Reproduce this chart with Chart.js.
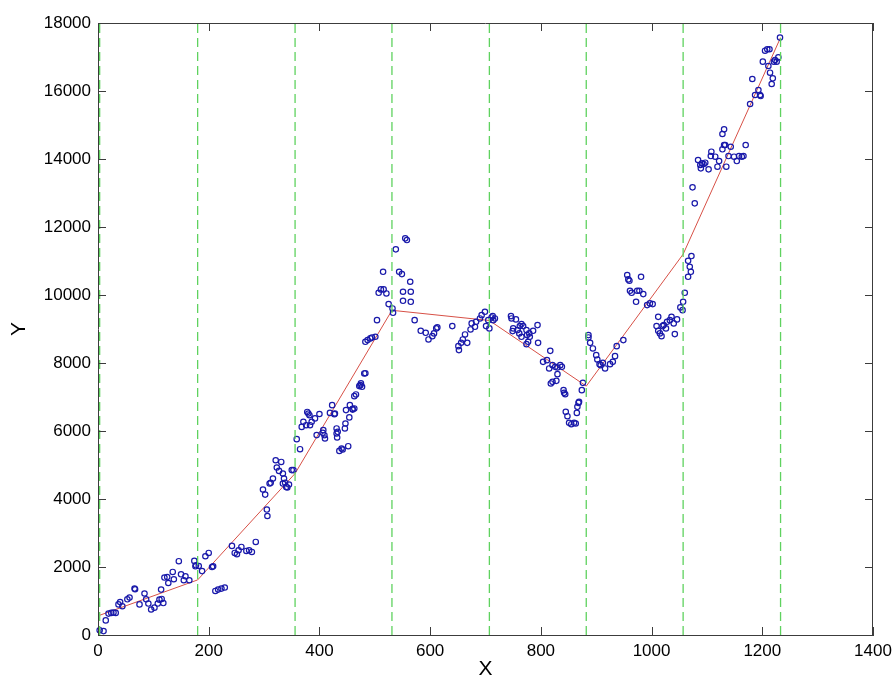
<!DOCTYPE html>
<html>
<head>
  <meta charset="UTF-8" />
  <title>Piecewise fit</title>
  <script src="https://cdn.jsdelivr.net/npm/chart.js"></script>
  <style>
    html, body { margin: 0; padding: 0; background: #fff; }
    #wrap { width: 895px; height: 680px; }
  </style>
</head>
<body>
  <div id="wrap"><canvas id="fitChart"></canvas></div>

  <script>
    // measured samples (x, y)
    const sampleX = [
      3, 10, 14, 19, 24, 28, 32, 37, 40, 44, 53, 57, 66, 67, 75, 84, 87, 91, 96, 102,
      108, 111, 115, 118, 114, 120, 125, 127, 135, 137, 146, 150, 155, 158, 165, 174, 176, 177, 182, 188,
      194, 200, 206, 208, 212, 217, 223, 229, 242, 247, 251, 254, 259, 268, 273, 278, 285, 298, 302, 305,
      306, 310, 312, 316, 321, 323, 327, 331, 334, 336, 334, 338, 340, 342, 345, 350, 353, 359, 365, 368,
      371, 376, 378, 380, 382, 383, 386, 392, 395, 400, 406, 407, 409, 410, 419, 423, 427, 428, 431, 431,
      432, 433, 436, 440, 442, 452, 446, 447, 448, 454, 455, 460, 463, 460, 463, 466, 472, 474, 475, 477,
      481, 483, 483, 487, 492, 495, 501, 504, 507, 511, 516, 521, 515, 525, 532, 533, 538, 555, 558, 544,
      549, 564, 551, 565, 551, 565, 572, 583, 592, 597, 604, 607, 611, 613, 640, 651, 652, 656, 659, 663,
      667, 673, 675, 681, 683, 690, 693, 699, 701, 707, 705, 711, 714, 717, 713, 746, 747, 755, 750, 758,
      749, 762, 765, 768, 761, 765, 774, 775, 779, 780, 774, 777, 786, 794, 795, 804, 811, 817, 815, 821,
      826, 830, 835, 838, 830, 828, 821, 818, 841, 844, 842, 845, 848, 851, 855, 860, 863, 865, 866, 868,
      869, 874, 876, 886, 886, 889, 894, 900, 902, 906, 908, 912, 916, 925, 930, 934, 937, 949, 956, 958,
      960, 981, 961, 964, 974, 978, 985, 972, 992, 997, 1002, 1012, 1009, 1012, 1015, 1018, 1020, 1022, 1026, 1028,
      1033, 1036, 1042, 1040, 1046, 1052, 1056, 1057, 1060, 1066, 1066, 1069, 1071, 1072, 1074, 1078, 1084, 1088, 1089, 1091,
      1094, 1097, 1103, 1108, 1107, 1115, 1119, 1122, 1128, 1131, 1133, 1135, 1139, 1143, 1128, 1131, 1149, 1154, 1158, 1163,
      1166, 1170, 1178, 1182, 1187, 1193, 1197, 1196, 1201, 1205, 1209, 1213, 1211, 1214, 1217, 1219, 1221, 1223, 1226, 1229,
      1232
    ];
    const sampleY = [
      140, 115, 430, 630, 650, 660, 650, 900, 970, 845, 1050, 1100, 1365, 1345, 900, 1220, 1050, 925, 750, 805,
      925, 1040, 1060, 940, 1335, 1690, 1705, 1530, 1855, 1640, 2170, 1786, 1610, 1727, 1610, 2180, 2020, 2050, 2030, 1880,
      2316, 2413, 2000, 2020, 1295, 1336, 1365, 1395, 2620, 2413, 2375, 2493, 2590, 2472, 2493, 2443, 2737, 4280, 4130, 3690,
      3500, 4455, 4475, 4600, 5140, 4925, 4826, 5090, 4750, 4600, 4455, 4475, 4355, 4340, 4425, 4850, 4850, 5760, 5465, 6120,
      6270, 6170, 6560, 6515, 6465, 6170, 6270, 6370, 5880, 6500, 5945, 6025, 5877, 5780, 6533, 6760, 6495, 6515, 6075, 5927,
      5810, 5975, 5415, 5485, 5456, 5553, 6075, 6220, 6615, 6400, 6760, 6630, 6663, 6650, 7025, 7075, 7320, 7348, 7400, 7300,
      7693, 7700, 8623, 8673, 8723, 8752, 8770, 9261, 10065, 10164, 10164, 10046, 10683, 9733, 9605, 9476, 11342, 11666, 11616, 10683,
      10615, 10389, 10095, 10095, 9830, 9800, 9261, 8947, 8888, 8693, 8790, 8870, 9017, 9047, 9085, 8496, 8379, 8593, 8693, 8840,
      8593, 8987, 9165, 9065, 9212, 9311, 9408, 9506, 9085, 9017, 9261, 9340, 9261, 9311, 9379, 9379, 9311, 9282, 9017, 8967,
      8938, 9085, 9144, 9085, 8870, 8770, 8967, 8820, 8870, 8770, 8555, 8623, 8947, 9115, 8593, 8034, 8084, 8358, 7840, 7937,
      7887, 7868, 7937, 7887, 7672, 7475, 7446, 7398, 7201, 7083, 7122, 6563, 6436, 6240, 6200, 6240, 6220, 6533, 6710, 6827,
      6857, 7201, 7416, 8820, 8752, 8593, 8428, 8231, 8105, 7966, 7937, 8005, 7840, 7966, 8034, 8202, 8496, 8673, 10586, 10459,
      10418, 10536, 10124, 10065, 10124, 10124, 10026, 9800, 9703, 9753, 9733, 9358, 9085, 8947, 8870, 8790, 9085, 9115, 9017, 9212,
      9261, 9358, 8850, 9164, 9282, 9635, 9555, 9800, 10065, 10536, 11006, 10830, 10683, 11145, 13166, 12696, 13970, 13823, 13725, 13872,
      13852, 13891, 13696, 14214, 14087, 14067, 13773, 13940, 14285, 14411, 14411, 13773, 14087, 14361, 14735, 14873, 14067, 13940, 14087, 14067,
      14087, 14411, 15617, 16353, 15882, 16029, 15852, 15882, 16863, 17186, 17228, 17228, 16736, 16538, 16206, 16373, 16863, 16913, 16863, 16990,
      17570
    ];

    // segment breakpoints and fitted line values at them
    const breakX = [3, 180, 356, 531, 707, 882, 1057, 1233];
    const knotY = [580, 1620, 4750, 9550, 9250, 7320, 11200, 17570];

    const xTicks = [0, 200, 400, 600, 800, 1000, 1200, 1400];
    const yTicks = [0, 2000, 4000, 6000, 8000, 10000, 12000, 14000, 16000, 18000];

    const axisColor = '#3c3c3c';
    const font = { family: 'Arial, "Liberation Sans", sans-serif', size: 17 };

    const datasets = [];
    breakX.forEach(b => {
      datasets.push({
        type: 'line',
        data: [{ x: b, y: yTicks[0] }, { x: b, y: yTicks[yTicks.length - 1] }],
        borderColor: 'rgb(95, 210, 95)',
        borderWidth: 1.3,
        borderDash: [9, 5],
        pointRadius: 0,
        fill: false
      });
    });
    datasets.push({
      type: 'scatter',
      data: sampleX.map((x, i) => ({ x: x, y: sampleY[i] })),
      pointStyle: 'circle',
      pointRadius: 2.7,
      borderWidth: 1.2,
      borderColor: 'rgb(25, 25, 170)',
      backgroundColor: 'rgba(0,0,0,0)',
      clip: 6
    });
    datasets.push({
      type: 'line',
      data: breakX.map((x, i) => ({ x: x, y: knotY[i] })),
      borderColor: 'rgb(215, 80, 70)',
      borderWidth: 1,
      pointRadius: 0,
      fill: false
    });

    // MATLAB style box with inward ticks
    const boxTicks = {
      id: 'boxTicks',
      afterDatasetsDraw(chart) {
        const { ctx, chartArea: a, scales } = chart;
        ctx.save();
        ctx.strokeStyle = axisColor;
        ctx.lineWidth = 1;
        ctx.beginPath();
        ctx.moveTo(a.left, a.top + 0.5);
        ctx.lineTo(a.right, a.top + 0.5);
        ctx.moveTo(a.right - 0.5, a.top);
        ctx.lineTo(a.right - 0.5, a.bottom);
        const len = 8;
        xTicks.forEach(v => {
          const px = Math.round(scales.x.getPixelForValue(v)) + 0.5;
          ctx.moveTo(px, a.bottom); ctx.lineTo(px, a.bottom - len);
          ctx.moveTo(px, a.top); ctx.lineTo(px, a.top + len);
        });
        yTicks.forEach(v => {
          const py = Math.round(scales.y.getPixelForValue(v)) + 0.5;
          ctx.moveTo(a.left, py); ctx.lineTo(a.left + len, py);
          ctx.moveTo(a.right, py); ctx.lineTo(a.right - len, py);
        });
        ctx.stroke();
        ctx.restore();
      }
    };

    new Chart(document.getElementById('fitChart'), {
      data: { datasets: datasets },
      options: {
        responsive: true,
        maintainAspectRatio: false,
        animation: false,
        layout: { padding: { left: 0, right: 22, top: 23, bottom: 0 } },
        plugins: { legend: { display: false }, tooltip: { enabled: false } },
        scales: {
          x: {
            type: 'linear',
            min: 0,
            max: 1400,
            afterFit: s => { s.height = 45; s.paddingRight = 0; s.paddingLeft = 0; },
            afterBuildTicks: s => { s.ticks = xTicks.map(v => ({ value: v })); },
            grid: { display: false, drawTicks: false },
            border: { display: true, color: axisColor, width: 1 },
            ticks: { color: '#000', font: font, padding: 6, maxRotation: 0, callback: v => String(v) },
            title: {
              display: true, text: 'X', color: '#000',
              font: { family: font.family, size: 21, lineHeight: 1 },
              padding: { top: 0, bottom: 0 }
            }
          },
          y: {
            type: 'linear',
            min: 0,
            max: 18000,
            afterFit: s => { s.width = 98; s.paddingTop = 0; s.paddingBottom = 0; },
            afterBuildTicks: s => { s.ticks = yTicks.map(v => ({ value: v })); },
            grid: { display: false, drawTicks: false },
            border: { display: true, color: axisColor, width: 1 },
            ticks: { color: '#000', font: font, padding: 7, callback: v => String(v) },
            title: {
              display: true, text: 'Y', color: '#000',
              font: { family: font.family, size: 21, lineHeight: 1 },
              padding: { top: 9, bottom: 0 }
            }
          }
        }
      },
      plugins: [boxTicks]
    });
  </script>
</body>
</html>
